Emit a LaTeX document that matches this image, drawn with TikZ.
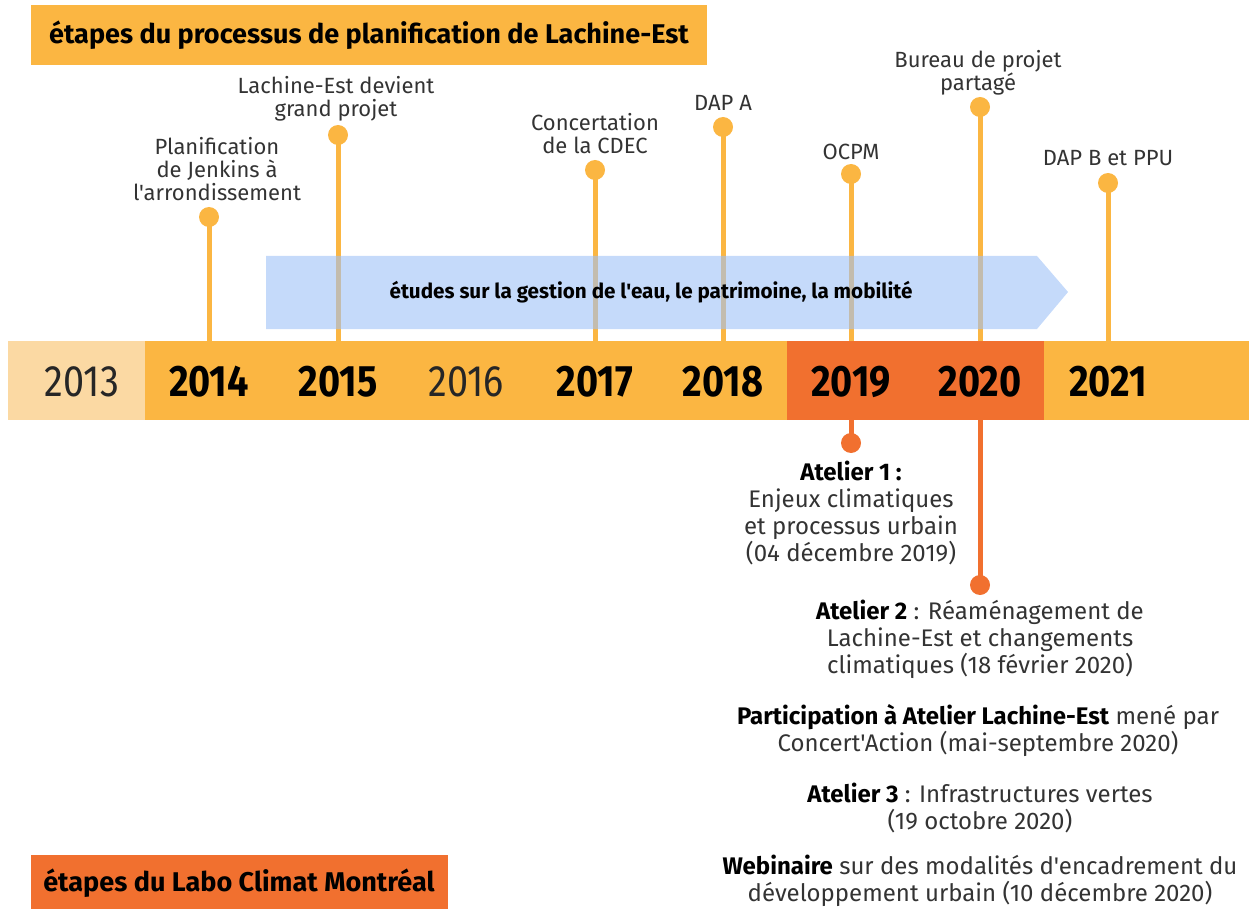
\documentclass[tikz,border=0pt]{standalone}
\usepackage{fontspec}
\setmainfont{Fira Sans}[Ligatures=TeXOff]
\newfontfamily\yearfont{Fira Sans}[FakeStretch=0.86]
\definecolor{yel}{HTML}{FBB642}
\definecolor{lightyel}{HTML}{FBD9A3}
\definecolor{darkor}{HTML}{F1702F}
\definecolor{blueA}{HTML}{9EC1F7}
\definecolor{txt}{HTML}{333333}
\begin{document}
\begin{tikzpicture}[x=0.75pt,y=-0.75pt,
  dotY/.style={circle,fill=yel,minimum size=15pt,inner sep=0pt},
  dotO/.style={circle,fill=darkor,minimum size=15pt,inner sep=0pt},
  stemY/.style={draw=yel,line width=3.75pt},
  stemO/.style={draw=darkor,line width=3.75pt},
  uplbl/.style={font=\fontsize{16.5}{17.25}\selectfont,align=center,text=txt,inner sep=0pt},
  lowlbl/.style={font=\fontsize{18}{20.25}\selectfont,align=center,text=txt,inner sep=0pt},
  yearB/.style={font=\yearfont\bfseries\fontsize{33}{33}\selectfont,text=black,inner sep=0pt},
  yearL/.style={font=\yearfont\fontsize{33}{33}\selectfont,text=black!85,inner sep=0pt},
  titlebox/.style={font=\bfseries\fontsize{20.3}{22}\selectfont,text=black,inner sep=0pt}
  ]
\useasboundingbox (0,0) rectangle (1249,909);
% title boxes
\fill[yel] (31,5) rectangle (707,65);
\node[titlebox] (t1) at (369,35) {étapes du processus de planification de Lachine-Est};
\fill[darkor] (31,855) rectangle (448,909);
\node[titlebox] (t2) at (239,883) {étapes du Labo Climat Montréal};
% bar
\fill[lightyel] (8,341) rectangle (145,420);
\fill[yel] (145,341) rectangle (787,420);
\fill[darkor] (787,341) rectangle (1044,420);
\fill[yel] (1044,341) rectangle (1249,420);
% bar coordinates
\coordinate (b2014) at (209,341);
\coordinate (b2015) at (338,341);
\coordinate (b2017) at (595,341);
\coordinate (b2018) at (723,341);
\coordinate (b2019) at (851,341);
\coordinate (b2020) at (980,341);
\coordinate (b2021) at (1108,341);
\coordinate (l2019) at (851,420);
\coordinate (l2020) at (980,420);
% dots
\node[dotY] (d2014) at (209,217) {};
\node[dotY] (d2015) at (338,135) {};
\node[dotY] (d2017) at (595,170) {};
\node[dotY] (d2018) at (723,127) {};
\node[dotY] (d2019) at (851,174) {};
\node[dotY] (d2020) at (980,107) {};
\node[dotY] (d2021) at (1108,183) {};
\node[dotO] (e2019) at (851,443) {};
\node[dotO] (e2020) at (980,585) {};
% stems
\foreach \y in {2014,2015,2017,2018,2019,2020,2021}
  \draw[stemY] (d\y.center) -- (b\y);
\draw[stemO] (l2019) -- (e2019.center);
\draw[stemO] (l2020) -- (e2020.center);
% blue arrow
\fill[blueA,fill opacity=0.6] (266,256) -- (1037,256) -- (1068,292) -- (1037,329) -- (266,329) -- cycle;
\node[font=\bfseries\fontsize{15.5}{17}\selectfont,text=black,inner sep=0pt] (etudes) at (651,292) {études sur la gestion de l'eau, le patrimoine, la mobilité};
% years
\node[yearL] (y2013) at (82,382) {2013};
\node[yearB] (y2014) at (209,382) {2014};
\node[yearB] (y2015) at (338,382) {2015};
\node[yearL] (y2016) at (466,382) {2016};
\node[yearB] (y2017) at (595,382) {2017};
\node[yearB] (y2018) at (723,382) {2018};
\node[yearB] (y2019) at (851,382) {2019};
\node[yearB] (y2020) at (980,382) {2020};
\node[yearB] (y2021) at (1108,382) {2021};
% upper labels
\node[uplbl] (p2014) at (217,169) {Planification\\de Jenkins à\\l'arrondissement};
\node[uplbl] (p2015) at (336,99) {Lachine-Est devient\\grand projet};
\node[uplbl] (p2017) at (595,134) {Concertation\\de la CDEC};
\node[uplbl] (p2018) at (723,103) {DAP A};
\node[uplbl] (p2019) at (851,152) {OCPM};
\node[uplbl] (p2020) at (978,73) {Bureau de projet\\partagé};
\node[uplbl] (p2021) at (1108,158) {DAP B et PPU};
% lower labels
\node[lowlbl] (a1) at (851,513) {\textbf{\color{black}Atelier 1 :}\\Enjeux climatiques\\et processus urbain\\(04 décembre 2019)};
\node[lowlbl] (a2) at (980,639) {\textbf{\color{black}Atelier 2} : Réaménagement de\\Lachine-Est et changements\\climatiques (18 février 2020)};
\node[lowlbl] (pa) at (978,731) {\textbf{\color{black}Participation à Atelier Lachine-Est} mené par\\Concert'Action (mai-septembre 2020)};
\node[lowlbl] (a3) at (980,808) {\textbf{\color{black}Atelier 3} : Infrastructures vertes\\(19 octobre 2020)};
\node[lowlbl] (wb) at (980,881) {\textbf{\color{black}Webinaire} sur des modalités d'encadrement du\\développement urbain (10 décembre 2020)};
\end{tikzpicture}
\end{document}
